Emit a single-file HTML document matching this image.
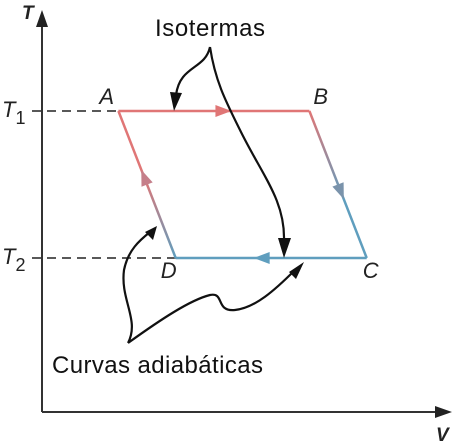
<!DOCTYPE html>
<html><head><meta charset="utf-8"><style>
body{margin:0;background:#fff}
svg{display:block;font-family:"Liberation Sans",sans-serif}
</style></head><body>
<svg width="453" height="445" viewBox="0 0 453 445">
<defs>
<linearGradient id="gDA" x1="0" y1="1" x2="0" y2="0"><stop offset="0" stop-color="#5f9ebe"/><stop offset="0.55" stop-color="#e07676"/></linearGradient>
<linearGradient id="gBC" x1="0" y1="0" x2="0" y2="1"><stop offset="0" stop-color="#e07676"/><stop offset="0.6" stop-color="#5f9ebe"/></linearGradient>
</defs>
<g id="chart"></g>
</svg>
<script>
const labels=["A","B","C","D"];
const vValues=[2,7,8.5,3.5];
const tValues=[1,1,0,0];
const tickLabels=["T1","T2"];
function xS(v){return 42+v*38.2;}
function yS(t){return 258-t*147;}
const NS="http://www.w3.org/2000/svg";
const g=document.getElementById('chart');
function mk(tag,attrs,parent){const e=document.createElementNS(NS,tag);for(const k in attrs)e.setAttribute(k,attrs[k]);(parent||g).appendChild(e);return e;}
let e=mk('path',{d:'M42 412 V22 M42 412 H440',stroke:'#333','stroke-width':2,fill:'none'});


e=mk('path',{d:'M36 27 L42 10 L48 27 Z M435 406 L452 412 L435 418 Z',fill:'#222'});


e=mk('text',{x:22,y:19,'font-size':19,'font-style':'italic','font-weight':'bold',fill:'#222'});e.textContent='T';


e=mk('text',{x:436,y:441,'font-size':19,'font-style':'italic','font-weight':'bold',fill:'#222'});e.textContent='V';


const P=labels.map((l,i)=>[xS(vValues[i]),yS(tValues[i])]);
[1,0].forEach((t,i)=>{
 const y=yS(t);
 let d=mk('line',{x1:32,y1:y,x2:(i==0?P[0][0]:P[3][0]),y2:y,stroke:'#222','stroke-width':1.5,'stroke-dasharray':'9,6'});
 
 
 let tx=mk('text',{x:2,y:y+6,'font-size':22,'font-style':'italic',fill:'#222'});
 tx.innerHTML=tickLabels[i][0]+'<tspan font-style="normal" font-size="18" dy="7">'+tickLabels[i].slice(1)+'</tspan>';
 
 
});
const red='#e07676',blue='#5f9ebe';
const edges=[[0,1,red],[1,2,'url(#gBC)'],[2,3,blue],[3,0,'url(#gDA)']];
const names=['isotherm-ab','adiabat-bc','isotherm-cd','adiabat-da'];
edges.forEach((ed,i)=>{
 const a=P[ed[0]],b=P[ed[1]];
 let l=mk('path',{d:`M${a[0]} ${a[1]} L${b[0]+0.01} ${b[1]+0.01}`,stroke:ed[2],'stroke-width':2.5,fill:'none'});
 
 
 const mx=(a[0]+b[0])/2+(b[0]-a[0])*0.05,my=(a[1]+b[1])/2+(b[1]-a[1])*0.05;
 const ang=Math.atan2(b[1]-a[1],b[0]-a[0])*180/Math.PI;
 const col=i==0?red:i==2?blue:(i==1?'#7a93ab':'#c57f8a');
 let ar=mk('path',{d:'M8 0 L-8 -6 L-8 6 Z',fill:col,transform:`translate(${mx},${my}) rotate(${ang})`});
 
 
});
const off=[[-19,-7],[4,-7],[-4,20],[-15,20]];
labels.forEach((l,i)=>{
 let t=mk('text',{x:P[i][0]+off[i][0],y:P[i][1]+off[i][1],'font-size':22,'font-style':'italic',fill:'#222'});t.textContent=l;
 
 
});
e=mk('text',{x:155,y:36,'font-size':24,textLength:110,fill:'#111'});e.textContent='Isotermas';


e=mk('text',{x:52,y:373,'font-size':24,textLength:211,fill:'#111'});e.textContent='Curvas adiabáticas';


e=mk('path',{d:'M210 47 C205 70 180 65 176 95 M210 47 C215 80 225 100 240 130 C262 175 285 200 284 240 M128 343 C140 320 120 300 124 270 C128 250 140 240 150 232 M128 343 C160 320 190 300 210 295 C225 292 215 312 235 310 C255 308 275 290 295 270',stroke:'#111','stroke-width':2.2,fill:'none'});


e=mk('path',{d:'M170 92 L182 93 L174 111 Z M278 238 L291 238 L284 258 Z M145 232 L157 226 L153 240 Z M289 272 L304 262 L296 279 Z',fill:'#111'});


</script>
</body></html>
